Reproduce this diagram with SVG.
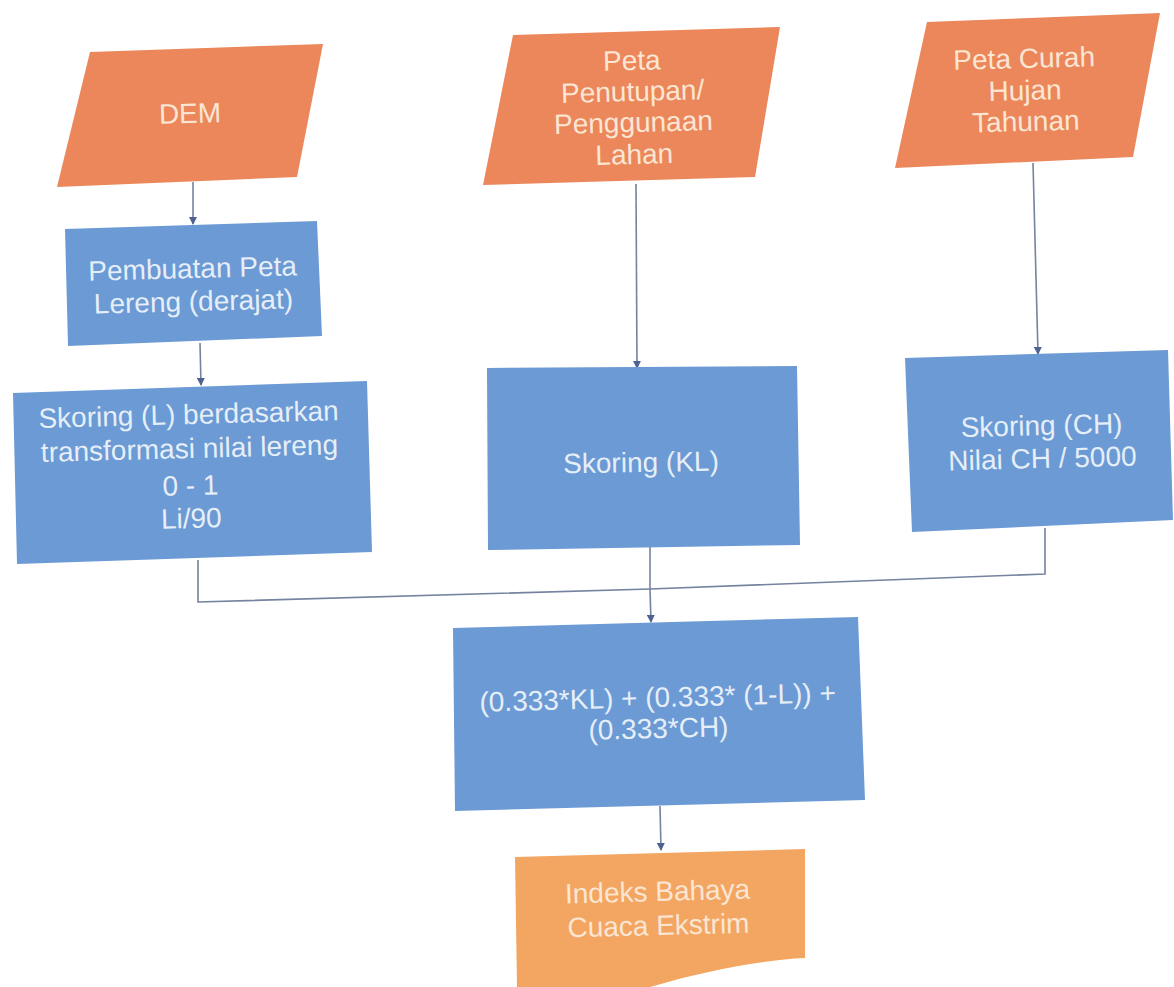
<svg xmlns="http://www.w3.org/2000/svg" width="1174" height="987" viewBox="0 0 1174 987">
<style>
  .inp { fill: #EB875B; }
  .proc { fill: #6B9AD4; }
  .out { fill: #F3A562; }
  text { font-family: "Liberation Sans", Arial, sans-serif; font-size: 28px; text-anchor: middle; }
  .tO { fill: #FBE6D4; }
  .tB { fill: #E6EEF8; }
  .conn { fill: none; stroke: #75839F; stroke-width: 1.6; }
</style>
<defs>
  <marker id="arr" markerWidth="8" markerHeight="8" refX="7" refY="4" orient="auto" markerUnits="userSpaceOnUse">
    <path d="M0,0 L8,4 L0,8 Z" fill="#4F6290"/>
  </marker>
</defs>
<rect width="1174" height="987" fill="#FFFFFF"/>

<g id="connectors">
  <path class="conn" d="M193,182 L193,224" marker-end="url(#arr)"/>
  <path class="conn" d="M200,343 L201,385" marker-end="url(#arr)"/>
  <path class="conn" d="M636,184 L637,368" marker-end="url(#arr)"/>
  <path class="conn" d="M1033,163 L1038,354" marker-end="url(#arr)"/>
  <path class="conn" d="M198,560 L198,602 L650,589 L1045,574 L1045,528"/>
  <path class="conn" d="M650,546 L650,589"/>
  <path class="conn" d="M650,589 L651,622" marker-end="url(#arr)"/>
  <path class="conn" d="M660,806 L661,850" marker-end="url(#arr)"/>
</g>

<g id="dem">
  <polygon class="inp" points="90,52 323,44 297,177 57,187"/>
  <text class="tO" x="190" y="123" transform="rotate(-1.5 190 113)">DEM</text>
</g>

<g id="peta-penutupan">
  <polygon class="inp" points="513,35 780,27 755,177 483,185"/>
  <g transform="rotate(-1.5 633 106)">
    <text class="tO" x="633" y="70">Peta</text>
    <text class="tO" x="633" y="101">Penutupan/</text>
    <text class="tO" x="633" y="132">Penggunaan</text>
    <text class="tO" x="633" y="164">Lahan</text>
  </g>
</g>

<g id="peta-curah-hujan">
  <polygon class="inp" points="927,22 1160,13 1133,157 895,168"/>
  <g transform="rotate(-1.5 1025 90)">
    <text class="tO" x="1025" y="68">Peta Curah</text>
    <text class="tO" x="1025" y="100">Hujan</text>
    <text class="tO" x="1025" y="131">Tahunan</text>
  </g>
</g>

<g id="pembuatan-lereng">
  <polygon class="proc" points="65,229 317,221 322,336 68,346"/>
  <g transform="rotate(-1.5 193 284)">
    <text class="tB" x="193" y="278">Pembuatan Peta</text>
    <text class="tB" x="193" y="311">Lereng (derajat)</text>
  </g>
</g>

<g id="skoring-l">
  <polygon class="proc" points="13,393 367,381 372,552 17,564"/>
  <g transform="rotate(-1.5 190 470)">
    <text class="tB" x="190" y="424">Skoring (L) berdasarkan</text>
    <text class="tB" x="190" y="458">transformasi nilai lereng</text>
    <text class="tB" x="190" y="495">0 - 1</text>
    <text class="tB" x="190" y="528">Li/90</text>
  </g>
</g>

<g id="skoring-kl">
  <polygon class="proc" points="487,368 797,366 800,545 488,550"/>
  <text class="tB" x="641" y="472" transform="rotate(-1 641 462)">Skoring (KL)</text>
</g>

<g id="skoring-ch">
  <polygon class="proc" points="905,358 1168,350 1173,520 912,532"/>
  <g transform="rotate(-1.5 1042 442)">
    <text class="tB" x="1042" y="435">Skoring (CH)</text>
    <text class="tB" x="1042" y="468">Nilai CH / 5000</text>
  </g>
</g>

<g id="formula">
  <polygon class="proc" points="453,628 858,617 865,800 455,811"/>
  <g transform="rotate(-1.5 658 712)">
    <text class="tB" x="658" y="707">(0.333*KL) + (0.333* (1-L)) +</text>
    <text class="tB" x="658" y="738">(0.333*CH)</text>
  </g>
</g>

<g id="indeks">
  <path class="out" d="M515,857 L805,849 L805,958 C 760,960 700,972 650,987 L517,987 Z"/>
  <g transform="rotate(-1.5 658 908)">
    <text class="tO" x="658" y="901">Indeks Bahaya</text>
    <text class="tO" x="658" y="935">Cuaca Ekstrim</text>
  </g>
</g>
</svg>
